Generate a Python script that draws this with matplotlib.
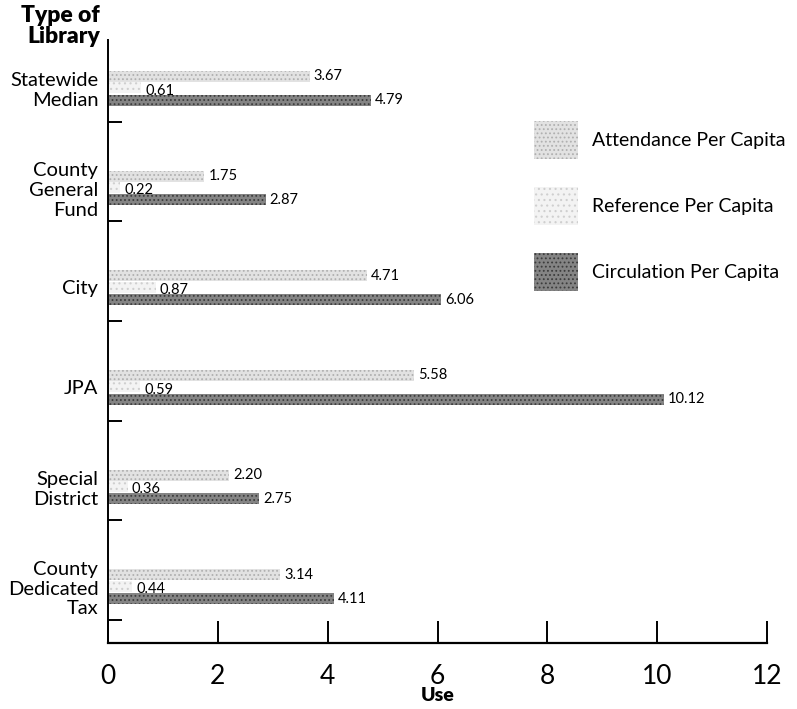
import matplotlib.pyplot as plt
import matplotlib.patches as mpatches
import numpy as np

plt.rcParams['font.family'] = ['Lato', 'DejaVu Sans']
plt.rcParams['hatch.linewidth'] = 0.8

libraries = ['Statewide\nMedian', 'County\nGeneral\nFund', 'City', 'JPA',
             'Special\nDistrict', 'County\nDedicated\nTax']
attendance = [3.67, 1.75, 4.71, 5.58, 2.20, 3.14]
reference = [0.61, 0.22, 0.87, 0.59, 0.36, 0.44]
circulation = [4.79, 2.87, 6.06, 10.12, 2.75, 4.11]

series_names = ['Attendance Per Capita', 'Reference Per Capita', 'Circulation Per Capita']

fig = plt.figure(figsize=(7.97, 7.09), dpi=100)
ax = fig.add_axes([108 / 797, 66 / 709, 659 / 797, 603 / 709])

y = np.arange(len(libraries))
h = 0.11

# stippled grey fills, roughly like the printed screens
styles = [
    dict(facecolor='#e2e2e2', edgecolor='#b0b0b0', hatch='....'),
    dict(facecolor='#f3f3f3', edgecolor='#cfcfcf', hatch='...'),
    dict(facecolor='#848484', edgecolor='#3c3c3c', hatch='....'),
]

b1 = ax.barh(y - 0.115, attendance, height=h, linewidth=0, **styles[0])
b2 = ax.barh(y + 0.0, reference, height=h, linewidth=0, **styles[1])
b3 = ax.barh(y + 0.125, circulation, height=h, linewidth=0, **styles[2])

for bars, vals, dy in [(b1, attendance, 0), (b2, reference, -2), (b3, circulation, 0)]:
    for bar, v in zip(bars, vals):
        ax.annotate(f'{v:.2f}', (v, bar.get_y() + bar.get_height() / 2),
                    xytext=(3, dy), textcoords='offset points',
                    ha='left', va='center', fontsize=10.5, color='black')

ax.set_xlim(0, 12)
ax.set_ylim(5.57, -0.48)

ax.set_xticks(range(0, 13, 2))
ax.set_xticklabels([str(t) for t in range(0, 13, 2)], fontsize=19)
ax.tick_params(axis='x', direction='in', length=16, width=1.4, pad=15)

# separator ticks between groups, labels at the group centres
ax.set_yticks(y + 0.34)
ax.set_yticklabels([])
ax.tick_params(axis='y', which='major', direction='in', length=10, width=1.4)
ax.set_yticks(y, minor=True)
ax.set_yticklabels(libraries, minor=True, fontsize=14.5, ha='right',
                   multialignment='right')
ax.tick_params(axis='y', which='minor', length=0, pad=7)

for side in ['top', 'right']:
    ax.spines[side].set_visible(False)
ax.spines['left'].set_linewidth(1.4)
ax.spines['bottom'].set_linewidth(1.6)

ax.set_xlabel('Use', fontsize=14, fontweight='heavy', labelpad=-1)
fig.text(100 / 797, 1 - 5 / 709, 'Type of\nLibrary', ha='right', va='top',
         fontsize=16.5, fontweight='heavy', multialignment='right', linespacing=1.0)

handles = [mpatches.Patch(linewidth=0, **s) for s in styles]
ax.legend(handles, series_names, loc='upper left', bbox_to_anchor=(516 / 797, 1 - 104 / 709),
          bbox_transform=fig.transFigure, frameon=False, fontsize=14,
          handlelength=2.3, handleheight=2.6, labelspacing=1.45, handletextpad=0.7)

fig.savefig('out.png', dpi=100)
